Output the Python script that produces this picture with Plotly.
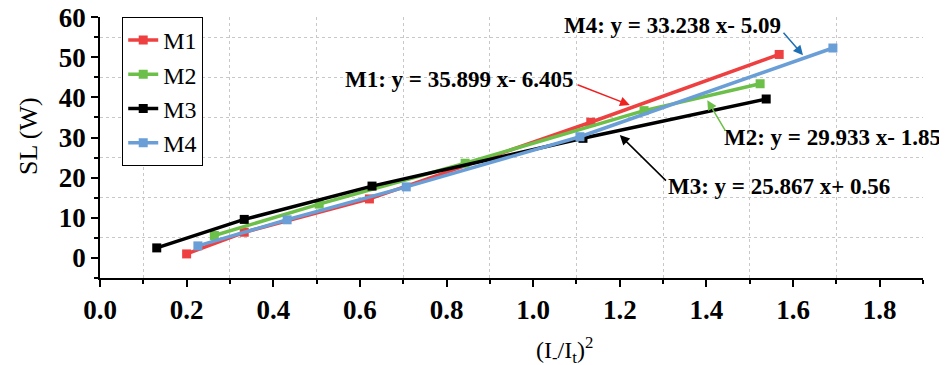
import plotly.graph_objects as go

series_names = ["M1", "M2", "M3", "M4"]
m1_x = [0.20, 0.333, 0.622, 1.133, 1.568]
m1_y = [1.0, 6.4, 14.7, 33.8, 50.7]
m2_x = [0.264, 0.506, 0.843, 1.256, 1.524]
m2_y = [5.6, 13.4, 23.6, 36.7, 43.4]
m3_x = [0.131, 0.333, 0.628, 1.115, 1.538]
m3_y = [2.5, 9.6, 17.9, 29.8, 39.6]
m4_x = [0.226, 0.432, 0.707, 1.108, 1.692]
m4_y = [3.0, 9.5, 17.7, 30.2, 52.3]
colors = ["#EE4040", "#6CBF48", "#000000", "#6A9ED6"]

fit_labels = ["M1: y = 35.899 x- 6.405", "M2: y = 29.933 x- 1.85",
              "M3: y = 25.867 x+ 0.56", "M4: y = 33.238 x- 5.09"]
fit_text_xy = [(0.828, 44.5), (1.692, 30.1), (1.568, 17.7), (1.322, 58.0)]
fit_tail_xy = [(1.099, 43.3), (1.446, 31.3), (1.310, 18.9), (1.575, 56.5)]
fit_tip_xy = [(1.223, 38.1), (1.402, 39.3), (1.200, 30.6), (1.623, 50.5)]
arrow_colors = ["#EE2020", "#6CBF48", "#000000", "#1F6FB4"]

xs = [m1_x, m2_x, m3_x, m4_x]
ys = [m1_y, m2_y, m3_y, m4_y]

SERIF = "Liberation Serif"

fig = go.Figure()
for name, x, y, c in zip(series_names, xs, ys, colors):
    fig.add_trace(go.Scatter(
        x=x, y=y, name=name, mode="lines+markers",
        line=dict(color=c, width=3.5),
        marker=dict(symbol="square", size=9, color=c),
    ))

annotations = []
for lab, (tx, ty), (sx, sy), (px, py), ac in zip(fit_labels, fit_text_xy, fit_tail_xy,
                                                fit_tip_xy, arrow_colors):
    annotations.append(dict(
        x=tx, y=ty, xref="x", yref="y", showarrow=False,
        xanchor="center", yanchor="middle", text=lab,
        font=dict(family=SERIF, size=23, color="black", weight="bold"),
    ))
    annotations.append(dict(
        x=px, y=py, xref="x", yref="y",
        ax=sx, ay=sy, axref="x", ayref="y",
        text="", showarrow=True, arrowhead=2, arrowsize=1.3, arrowwidth=1.5,
        arrowcolor=ac, standoff=0,
    ))

annotations.append(dict(
    x=0.565, y=-0.275, xref="paper", yref="paper", showarrow=False,
    xanchor="center", yanchor="middle",
    text="(I<sub>-</sub>/I<sub>t</sub>)<sup>2</sup>",
    font=dict(family=SERIF, size=24, color="black"),
))
annotations.append(dict(
    x=-0.0875, y=0.544, xref="paper", yref="paper", showarrow=False,
    xanchor="center", yanchor="middle", textangle=-90,
    text="SL (W)",
    font=dict(family=SERIF, size=26, color="black"),
))

fig.update_layout(
    width=939, height=357,
    margin=dict(l=92, r=24, t=9, b=87, autoexpand=False),
    paper_bgcolor="white", plot_bgcolor="white",
    showlegend=True,
    legend=dict(
        x=0.027, y=1.0, xanchor="left", yanchor="top",
        bordercolor="black", borderwidth=1, bgcolor="white",
        font=dict(family=SERIF, size=24, color="black"),
        tracegroupgap=0, itemwidth=30,
    ),
    annotations=annotations,
)

fig.update_xaxes(
    range=[0, 1.9], dtick=0.2, tick0=0, tickformat=".1f",
    showline=True, linecolor="black", linewidth=1.5,
    ticks="outside", ticklen=7, tickwidth=1.5, tickcolor="black",
    showgrid=False, zeroline=False, automargin=False, ticklabeloverflow="allow",
    tickfont=dict(family=SERIF, size=27, color="black", weight="bold"),
    minor=dict(dtick=0.1, tick0=0, ticks="outside", ticklen=4, tickwidth=1.5,
               tickcolor="black", showgrid=True, gridcolor="#c8c8c8",
               griddash="dot", gridwidth=1),
)
fig.update_yaxes(
    range=[-5, 60.03], dtick=10, tick0=0,
    showline=True, linecolor="black", linewidth=1.5,
    ticks="outside", ticklen=7, tickwidth=1.5, tickcolor="black",
    showgrid=False, zeroline=False, automargin=False, ticklabeloverflow="allow",
    tickfont=dict(family=SERIF, size=27, color="black", weight="bold"),
    minor=dict(dtick=5, tick0=0, ticks="outside", ticklen=4, tickwidth=1.5,
               tickcolor="black", showgrid=True, gridcolor="#c8c8c8",
               griddash="dot", gridwidth=1),
)

fig.write_html("out.html")
